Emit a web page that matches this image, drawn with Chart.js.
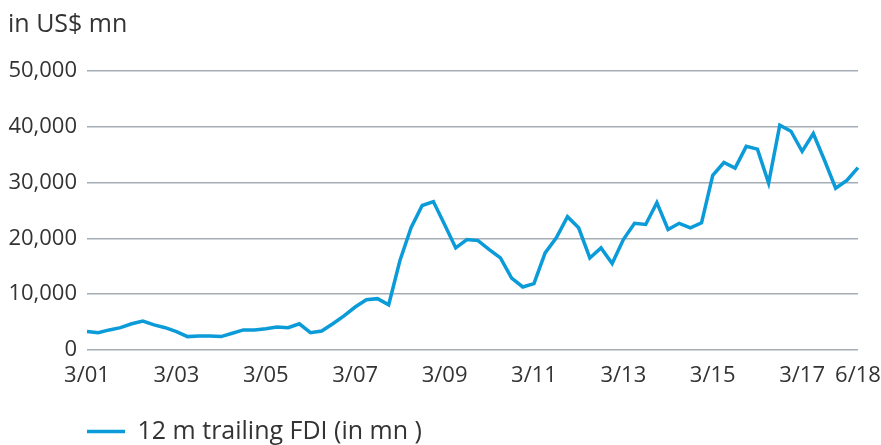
<!DOCTYPE html>
<html>
<head>
<meta charset="utf-8">
<script src="https://cdn.jsdelivr.net/npm/chart.js@4/dist/chart.umd.min.js"></script>
<style>
  html, body { margin: 0; padding: 0; background: #fff; }
  #myChart { display: block; }
</style>
</head>
<body>
<canvas id="myChart" width="881" height="445"></canvas>
<script>
// quarter-end labels, March 2001 to June 2018
const quarters = [
  '3/01', '6/01', '9/01', '12/01', '3/02', '6/02', '9/02', '12/02',
  '3/03', '6/03', '9/03', '12/03', '3/04', '6/04', '9/04', '12/04',
  '3/05', '6/05', '9/05', '12/05', '3/06', '6/06', '9/06', '12/06',
  '3/07', '6/07', '9/07', '12/07', '3/08', '6/08', '9/08', '12/08',
  '3/09', '6/09', '9/09', '12/09', '3/10', '6/10', '9/10', '12/10',
  '3/11', '6/11', '9/11', '12/11', '3/12', '6/12', '9/12', '12/12',
  '3/13', '6/13', '9/13', '12/13', '3/14', '6/14', '9/14', '12/14',
  '3/15', '6/15', '9/15', '12/15', '3/16', '6/16', '9/16', '12/16',
  '3/17', '6/17', '9/17', '12/17', '3/18', '6/18',
];

// 12 month trailing FDI, US$ mn
const trailingFdi = [
  3300, 3100, 3600, 4000, 4700, 5200, 4500, 4000,
  3300, 2400, 2500, 2500, 2400, 3000, 3600, 3600,
  3800, 4100, 4000, 4700, 3100, 3400, 4700, 6100,
  7700, 9000, 9200, 8100, 16000, 21900, 25900, 26600,
  22500, 18300, 19800, 19600, 18000, 16500, 12900, 11300,
  11900, 17400, 20100, 23900, 21900, 16500, 18300, 15500,
  19800, 22700, 22500, 26400, 21600, 22700, 21900, 22800,
  31300, 33600, 32600, 36500, 36000, 29900, 40300, 39200,
  35600, 38800, 34000, 29000, 30400, 32700,
];

// which quarters get a tick label
const shownTicks = ['3/01', '3/03', '3/05', '3/07', '3/09', '3/11', '3/13', '3/15', '3/17', '6/18'];

const textColor = '#333333';
const lineColor = '#0a9bd8';
const gridColor = '#a6aeb5';
const fontFamily = "'Open Sans', 'Noto Sans', sans-serif";

const chart = new Chart(document.getElementById('myChart').getContext('2d'), {
  type: 'line',
  data: {
    labels: quarters,
    datasets: [
      {
        label: '12 m trailing FDI (in mn )',
        data: trailingFdi,
        borderColor: lineColor,
        backgroundColor: lineColor,
        borderWidth: 3.5,
        pointRadius: 0,
        tension: 0,
        fill: false,
      },
    ],
  },
  options: {
    responsive: false,
    animation: false,
    layout: { padding: { left: 8, right: 23, top: 8, bottom: -9 } },
    scales: {
      x: {
        offset: false,
        grid: { display: false, drawTicks: false },
        border: { display: false },
        ticks: {
          autoSkip: false,
          maxRotation: 0,
          padding: 13,
          color: textColor,
          font: { family: fontFamily, size: 22 },
          callback: function (value, index) {
            const lbl = quarters[index];
            return shownTicks.includes(lbl) ? lbl : '';
          },
        },
        // keep the axis band fixed so the legend sits well below the labels
        afterFit: scale => {
          scale.height = 69;
          scale.paddingLeft = 0;
          scale.paddingRight = 0;
        },
      },
      y: {
        min: 0,
        max: 50000,
        grid: { color: gridColor, lineWidth: 1.5, drawTicks: false },
        border: { display: false },
        ticks: {
          stepSize: 10000,
          padding: 10,
          color: textColor,
          font: { family: fontFamily, size: 22 },
          callback: v => v.toLocaleString('en-US'),
        },
        afterFit: scale => { scale.width = 79; },
      },
    },
    plugins: {
      title: {
        display: true,
        text: 'in US$ mn',
        align: 'start',
        color: textColor,
        font: { family: fontFamily, size: 25, weight: 'normal' },
        padding: { top: 2, bottom: 31 },
      },
      legend: {
        position: 'bottom',
        align: 'start',
        fullSize: false,
        labels: {
          boxWidth: 38,
          boxHeight: 0,
          padding: 0,
          color: textColor,
          font: { family: fontFamily, size: 25 },
        },
      },
      tooltip: { enabled: false },
    },
  },
});
</script>
</body>
</html>
